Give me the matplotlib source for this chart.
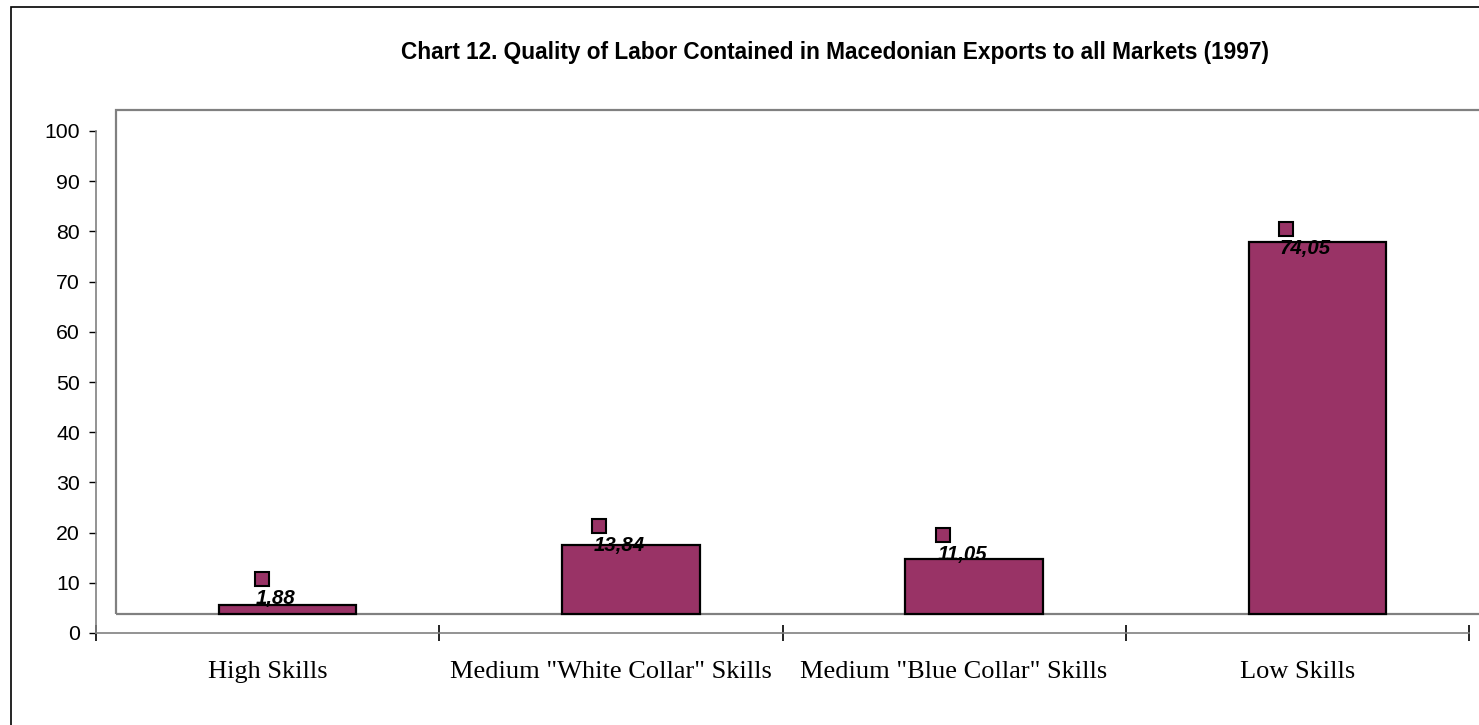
import matplotlib
matplotlib.use("Agg")
import matplotlib.pyplot as plt
from matplotlib.patches import Rectangle

# chart data
categories = ["High Skills", 'Medium "White Collar" Skills',
              'Medium "Blue Collar" Skills', "Low Skills"]
shares = [1.88, 13.84, 11.05, 74.05]
value_labels = ["1,88", "13,84", "11,05", "74,05"]
y_ticks = [0, 10, 20, 30, 40, 50, 60, 70, 80, 90, 100]

# vertical nudge of each data label relative to its bar top (data units)
label_nudge = [1.3, -0.1, 0.9, -1.2]

title = "Chart 12. Quality of Labor Contained in Macedonian Exports to all Markets (1997)"
bar_color = "#993366"
sans = ["Liberation Sans", "DejaVu Sans"]

W, H = 1479, 725
fig = plt.figure(figsize=(W / 100, H / 100), dpi=100)

# axes placed in pixel coordinates of the reference
x0, x1 = 96, 1469
y0, y1 = 633, 131
ax = fig.add_axes([x0 / W, 1 - y0 / H, (x1 - x0) / W, (y0 - y1) / H])
ax.set_xlim(0, 4)
ax.set_ylim(0, 100)

# 3d depth offset of the back wall (pixels -> data units)
px_x = 4 / (x1 - x0)
px_y = 100 / (y0 - y1)
dx = 20 * px_x
dy = 19 * px_y

# back wall
ax.add_patch(Rectangle((dx, dy), 4.2, 100 + 0.4, facecolor="none",
                       edgecolor="#808080", lw=1.6, clip_on=False, zorder=1))

bar_w = 0.4
texts = []
for i, v in enumerate(shares):
    xc = i + 0.5 + dx
    ax.bar(xc, v, width=bar_w, bottom=dy, color=bar_color,
           edgecolor="black", linewidth=1.6, zorder=3, clip_on=False)
    tx = xc - 12 * px_x
    ty = v + dy + label_nudge[i]
    t = ax.text(tx, ty, value_labels[i], ha="center", va="center",
                fontsize=14.7, fontweight="bold", fontstyle="italic",
                family=sans, zorder=5)
    texts.append((t, ty))

# legend keys of the data labels: above the text, near its left edge
fig.canvas.draw()
renderer = fig.canvas.get_renderer()
for t, ty in texts:
    bb = t.get_window_extent(renderer)
    kx = ax.transData.inverted().transform((bb.x0 + 6, 0))[0]
    ax.plot(kx, ty + 19 * px_y, marker="s", markersize=10.5,
            markerfacecolor=bar_color, markeredgecolor="black",
            markeredgewidth=1.5, linestyle="none", zorder=6, clip_on=False)

# axes styling
for s in ["top", "right"]:
    ax.spines[s].set_visible(False)
ax.spines["left"].set_color("#808080")
ax.spines["bottom"].set_color("#808080")
ax.spines["left"].set_linewidth(1.2)
ax.spines["bottom"].set_linewidth(1.2)
ax.spines["left"].set_zorder(2)

ax.set_yticks(y_ticks)
ax.set_yticklabels([str(t) for t in y_ticks], family=sans, fontsize=15.3)
ax.tick_params(axis="y", direction="out", length=5, width=1, color="black", pad=6.5)

ax.set_xticks([0, 1, 2, 3, 4])
ax.set_xticklabels([])
ax.tick_params(axis="x", direction="inout", length=12, width=1.2, color="black")
for i, c in enumerate(categories):
    ax.text(i + 0.5, -7.8, c, ha="center", va="center", fontsize=19,
            family=["Liberation Serif", "DejaVu Serif"])

# title and outer chart border
fig.text(835 / W, 1 - 52 / H, title, ha="center", va="center",
         fontsize=16.3, fontweight="bold", family=sans)
fig.patches.append(Rectangle((11 / W, -0.1), 1.2, 1 - 7 / H + 0.1,
                             transform=fig.transFigure, facecolor="none",
                             edgecolor="black", lw=1.2))

fig.savefig("out.png", dpi=100)
